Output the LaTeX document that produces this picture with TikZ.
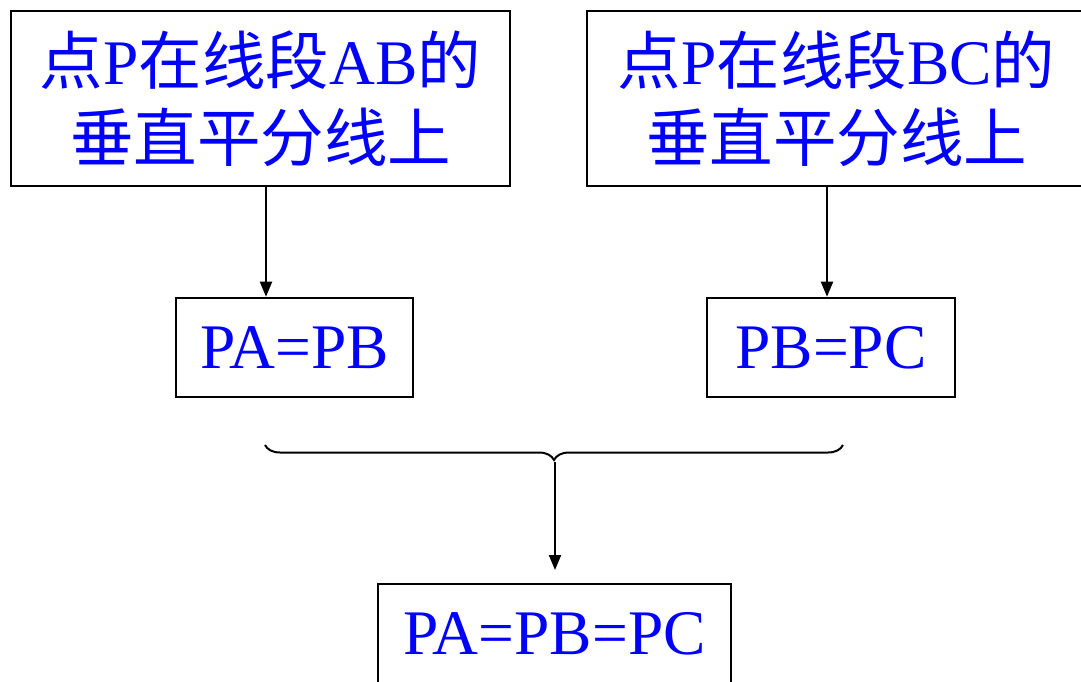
\documentclass[tikz,border=0pt]{standalone}
\usepackage{fontspec}
\setmainfont{Liberation Serif}
\newfontfamily\cjk{Noto Sans CJK SC}
\usetikzlibrary{arrows.meta,decorations.pathreplacing}
\definecolor{txtblue}{RGB}{0,0,255}
\begin{document}
\begin{tikzpicture}[x=1pt,y=-1pt,
  box/.style={draw=black,line width=2.6pt,text=txtblue,align=center,inner sep=0pt,
    font=\fontsize{63.5}{77}\selectfont},
  arr/.style={line width=2pt,-{Triangle[length=15pt,width=12pt]}}]
\clip (0,0) rectangle (1081,681);
\useasboundingbox (0,0) rectangle (1081,681);
\node[box,minimum width=499pt,minimum height=175pt] (b1) at (260.5,98.5)
  {{\cjk 点}P{\cjk 在线段}AB{\cjk 的}\\{\cjk 垂直平分线上}};
\node[box,minimum width=499pt,minimum height=175pt] (b2) at (836.5,98.5)
  {{\cjk 点}P{\cjk 在线段}BC{\cjk 的}\\{\cjk 垂直平分线上}};
\node[box,minimum width=237pt,minimum height=99pt] (pab) at (294.5,347.5) {PA=PB};
\node[box,minimum width=248pt,minimum height=99pt] (pbc) at (831,347.5) {PB=PC};
\node[box,minimum width=353pt,minimum height=99pt] (pabc) at (554.5,633.5) {PA=PB=PC};
\coordinate (x1) at (266,0);
\coordinate (x2) at (827,0);
\draw[arr] (b1.south -| x1) -- (pab.north -| x1);
\draw[arr] (b2.south -| x2) -- (pbc.north -| x2);
\coordinate (bl) at (265,445);
\coordinate (br) at (843,445);
\draw[line width=2pt,decorate,decoration={brace,mirror,amplitude=15pt}] (bl) -- (br);
\coordinate (tip) at (555,462);
\coordinate (aend) at (555,570);
\draw[arr] (tip) -- (aend);
\end{tikzpicture}
\end{document}
